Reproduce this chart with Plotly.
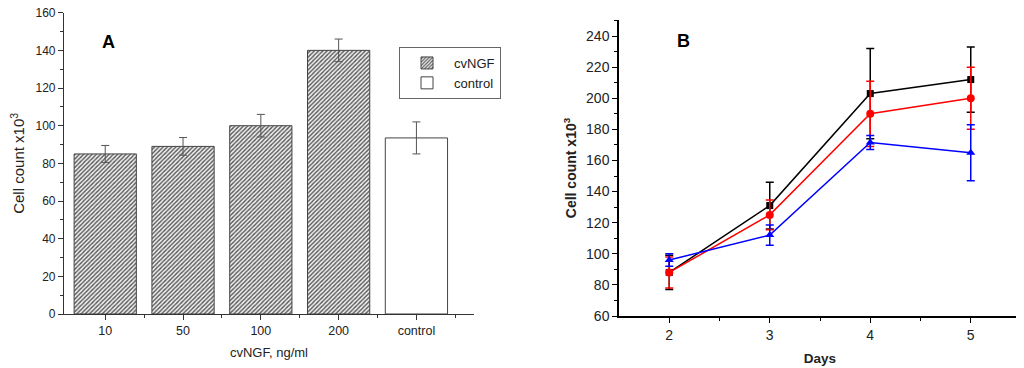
import plotly.graph_objects as go

# Panel A data
cat_labels = ["10", "50", "100", "200", "control"]
cv_vals = [85, 89, 100, 140]
cv_err = [4.5, 4.7, 6, 6]
ctrl_vals = [93.5]
ctrl_err = [8.5]

# Panel B data
days = [2, 3, 4, 5]
black_vals = [88, 131, 203, 212]
black_err = [11, 15, 29, 21]
red_vals = [88, 125, 190, 200]
red_err = [10, 9.5, 21, 20]
blue_vals = [96, 112, 171.5, 165]
blue_err = [4, 6.5, 4.5, 18]

FONT = "Liberation Sans, Arial, sans-serif"
W, H, OFF = 1016, 360, 8  # page body has an 8px margin


def px_x(p):
    return (p - OFF) / W


def px_y(p):
    return 1 - (p - OFF) / H


fig = go.Figure()

fig.add_trace(go.Bar(
    x=list(range(len(cv_vals))), y=cv_vals, name="cvNGF", width=0.8,
    marker=dict(color="#d0d0d0", line=dict(color="#444", width=1),
                pattern=dict(shape="/", fgcolor="#555", bgcolor="#f2f2f2", size=3, solidity=0.45)),
    error_y=dict(type="data", array=cv_err, color="#555", thickness=1, width=4),
    xaxis="x", yaxis="y"))
fig.add_trace(go.Bar(
    x=[len(cv_vals)], y=ctrl_vals, name="control", width=0.8,
    marker=dict(color="white", line=dict(color="#444", width=1)),
    error_y=dict(type="data", array=ctrl_err, color="#555", thickness=1, width=4),
    xaxis="x", yaxis="y"))

for vals, err, col, sym, sz in [
    (black_vals, black_err, "black", "square", 7),
    (red_vals, red_err, "#ff0000", "circle", 8),
    (blue_vals, blue_err, "#0000ff", "triangle-up", 8),
]:
    fig.add_trace(go.Scatter(
        x=days, y=vals, mode="lines+markers", showlegend=False,
        line=dict(color=col, width=1.5),
        marker=dict(symbol=sym, size=sz, color=col),
        error_y=dict(type="data", array=err, color=col, thickness=1.5, width=4),
        xaxis="x2", yaxis="y2"))

fig.update_layout(
    template="none",
    width=W, height=H,
    margin=dict(l=0, r=0, t=0, b=0, pad=0, autoexpand=False),
    paper_bgcolor="white", plot_bgcolor="white",
    font=dict(family=FONT, color="#222"),
    bargap=0.2,
    showlegend=True,
    legend=dict(x=px_x(399), y=px_y(47), xanchor="left", yanchor="top",
                bordercolor="#666", borderwidth=1, bgcolor="white",
                font=dict(size=13, family=FONT), tracegroupgap=0, itemwidth=44),
    xaxis=dict(domain=[px_x(64), px_x(474)], range=[-0.53, 4.74], automargin=False,
               tickvals=list(range(len(cat_labels))), ticktext=cat_labels,
               ticks="outside", ticklen=5, tickcolor="#333", ticklabeloverflow="allow",
               showline=True, linecolor="#333", linewidth=1.2,
               showgrid=False, zeroline=False,
               tickfont=dict(size=12.5),
               minor=dict(tickvals=[0.5, 1.5, 2.5, 3.5, 4.5], ticks="outside", ticklen=3, tickcolor="#333"),
               title=dict(text="cvNGF, ng/ml", font=dict(size=13), standoff=10)),
    yaxis=dict(domain=[px_y(314), px_y(12.7)], range=[0, 160], automargin=False,
               tickvals=[0, 20, 40, 60, 80, 100, 120, 140, 160],
               ticks="outside", ticklen=5, tickcolor="#333", ticklabeloverflow="allow",
               showline=True, linecolor="#333", linewidth=1.2,
               showgrid=False, zeroline=False,
               tickfont=dict(size=12),
               minor=dict(dtick=10, ticks="outside", ticklen=3, tickcolor="#333"),
               title=dict(text="Cell count x10<sup>3</sup>", font=dict(size=15), standoff=8)),
    xaxis2=dict(domain=[px_x(619), px_x(1021)], range=[1.5, 5.5], anchor="y2", automargin=False,
                tickvals=days, ticks="outside", ticklen=5, tickcolor="black", ticklabeloverflow="allow",
                showline=True, linecolor="black", linewidth=1.5,
                showgrid=False, zeroline=False,
                tickfont=dict(size=14),
                minor=dict(tickvals=[2.5, 3.5, 4.5, 5.5], ticks="outside", ticklen=3, tickcolor="black"),
                title=dict(text="<b>Days</b>", font=dict(size=13.5), standoff=12)),
    yaxis2=dict(domain=[px_y(316), px_y(20)], range=[60, 250.3], anchor="x2", automargin=False,
                tickvals=[60, 80, 100, 120, 140, 160, 180, 200, 220, 240],
                ticks="outside", ticklen=5, tickcolor="black", ticklabeloverflow="allow",
                showline=True, linecolor="black", linewidth=1.5,
                showgrid=False, zeroline=False,
                tickfont=dict(size=14),
                minor=dict(dtick=10, ticks="outside", ticklen=3, tickcolor="black"),
                title=dict(text="<b>Cell count x10<sup>3</sup></b>", font=dict(size=14), standoff=6)),
    annotations=[
        dict(text="<b>A</b>", x=px_x(100), y=px_y(30), xref="paper", yref="paper", showarrow=False,
             font=dict(size=18, color="black")),
        dict(text="<b>B</b>", x=px_x(692), y=px_y(29), xref="paper", yref="paper", showarrow=False,
             font=dict(size=18, color="black")),
    ],
)

fig.write_html("out.html")
